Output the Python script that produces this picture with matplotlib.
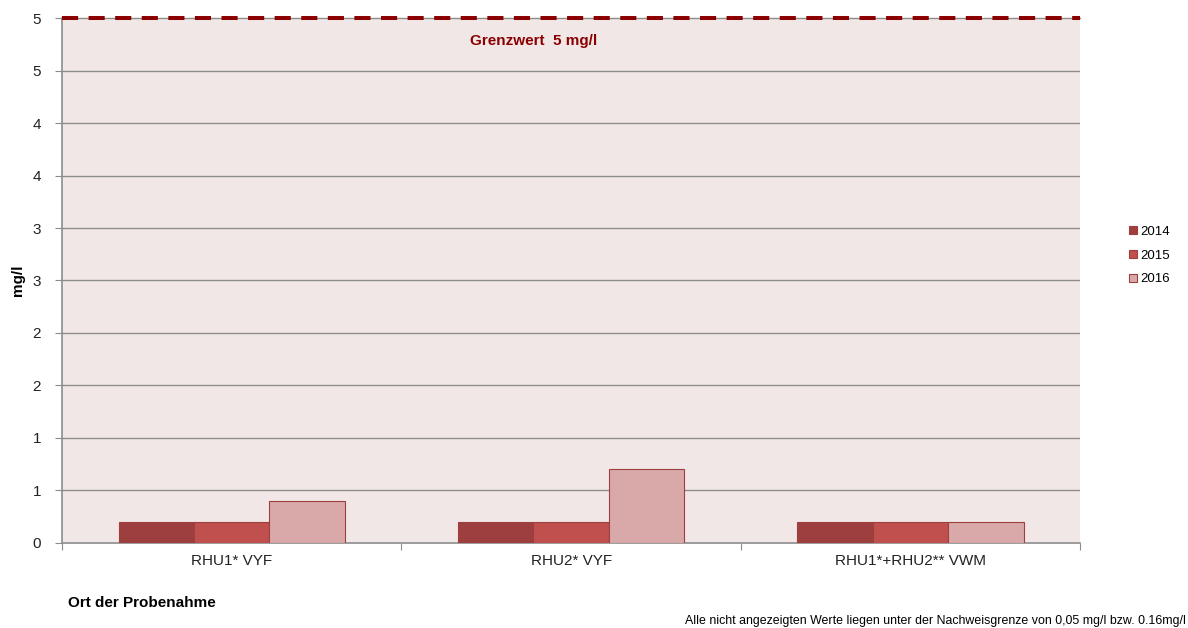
import numpy as np
import matplotlib.pyplot as plt
from matplotlib.patches import Patch

plt.rcParams["font.family"] = ["Liberation Sans", "DejaVu Sans"]

sites = ["RHU1* VYF", "RHU2* VYF", "RHU1*+RHU2** VWM"]
years = ["2014", "2015", "2016"]
values_2014 = [0.2, 0.2, 0.2]
values_2015 = [0.2, 0.2, 0.2]
values_2016 = [0.4, 0.7, 0.2]
limit_value = 5
y_ticks = [0, 0.5, 1, 1.5, 2, 2.5, 3, 3.5, 4, 4.5, 5]
y_tick_labels = ["0", "1", "1", "2", "2", "3", "3", "4", "4", "5", "5"]

colors = ["#9C3F3E", "#C0504D", "#D9A9A9"]
edge = "#9C3F3E"

fig = plt.figure(figsize=(11.88, 6.28), dpi=100)
ax = fig.add_axes([0.0522, 0.1354, 0.8570, 0.8359])
ax.set_facecolor("#F2E7E7")

x = np.arange(len(sites))
width = 0.667 / 3
series = [values_2014, values_2015, values_2016]
for i, vals in enumerate(series):
    ax.bar(x + (i - 1) * width, vals, width, color=colors[i],
           edgecolor=edge, linewidth=0.8, zorder=3)

ax.set_xlim(-0.5, 2.5)
ax.set_ylim(0, limit_value)

# grid
for t in y_ticks[1:-1]:
    ax.axhline(t, color="#8C8C8C", linewidth=1, zorder=1)
ax.axhline(limit_value, color="#8C8C8C", linewidth=1, zorder=2, clip_on=False)
ax.axhline(limit_value, color="#8B0000", linewidth=2.9, linestyle=(0, (4, 2.6)),
           zorder=4, clip_on=False)
ax.text(0.89, 4.78, "Grenzwert  5 mg/l", color="#8B0000", fontsize=11,
        fontweight="bold", ha="center", va="center")

ax.set_yticks(y_ticks)
ax.set_yticklabels(y_tick_labels, fontsize=11, color="#222222")
ax.set_xticks([-0.5, 0.5, 1.5, 2.5])
ax.set_xticklabels([])
ax.set_xticks(x, minor=True)
ax.set_xticklabels(sites, minor=True, fontsize=11, color="#222222")
ax.tick_params(axis="x", which="minor", length=0, pad=8)
ax.tick_params(axis="x", which="major", length=5, color="#8C8C8C")
ax.tick_params(axis="y", length=5, color="#8C8C8C", pad=10)

for s in ["top", "right"]:
    ax.spines[s].set_visible(False)
for s in ["left", "bottom"]:
    ax.spines[s].set_color("#8C8C8C")
    ax.spines[s].set_linewidth(1.2)

ax.set_ylabel("mg/l", fontsize=11, fontweight="bold")
ax.yaxis.set_label_coords(-0.036, 0.5)

handles = [Patch(facecolor=colors[i], edgecolor=edge, linewidth=0.8) for i in range(3)]
fig.legend(handles, years, loc="center left", bbox_to_anchor=(0.940, 0.593),
           frameon=False, fontsize=9.5, handlelength=0.6, handleheight=0.6,
           handletextpad=0.3, labelspacing=0.9)

fig.text(0.057, 0.04, "Ort der Probenahme", fontsize=11, fontweight="bold",
         va="center")
fig.text(0.998, 0.011, "Alle nicht angezeigten Werte liegen unter der Nachweisgrenze von 0,05 mg/l bzw. 0.16mg/l",
         fontsize=8.9, ha="right", va="center",
         family=["Liberation Sans Narrow", "Liberation Sans", "DejaVu Sans"])

fig.savefig("out.png", dpi=100)
